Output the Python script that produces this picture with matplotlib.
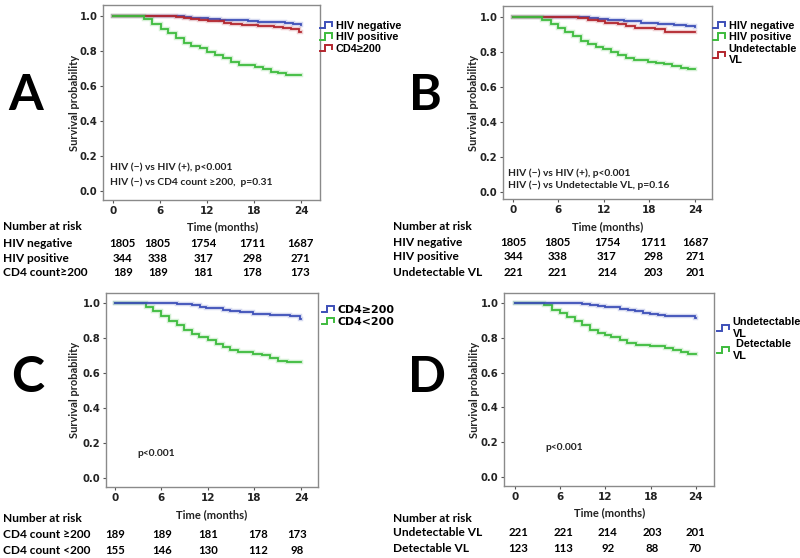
import numpy as np
import matplotlib
matplotlib.use('Agg')
import matplotlib.pyplot as plt
from matplotlib.lines import Line2D
from matplotlib.legend_handler import HandlerBase
import matplotlib.transforms as mtrans

plt.rcParams['font.family'] = ['Lato', 'DejaVu Sans']

# ---------------- data ----------------
months = [0, 6, 12, 18, 24]
y_ticks = [0.0, 0.2, 0.4, 0.6, 0.8, 1.0]
y_tick_labels = ['0.0', '0.2', '0.4', '0.6', '0.8', '1.0']

# Panel A
A_neg_t = [0, 7.85, 9.0, 9.98, 12.1, 13.6, 15.1, 17.2, 18.5, 19.7, 21.9, 23.0, 24.0]
A_neg_s = [1.0, 0.998, 0.994, 0.990, 0.983, 0.980, 0.977, 0.971, 0.967, 0.964, 0.958, 0.953, 0.948]
A_pos_t = [0, 3.93, 4.99, 6.06, 7.0, 8.06, 9.04, 9.98, 11.05, 12.0, 13.04, 14.03, 15.0, 16.04,
           18.08, 19.1, 20.2, 21.1, 22.1, 24.0]
A_pos_s = [1.0, 0.981, 0.954, 0.928, 0.901, 0.874, 0.848, 0.829, 0.815, 0.796, 0.777, 0.758, 0.735, 0.720,
           0.707, 0.695, 0.683, 0.672, 0.662, 0.662]
A_cd4_t = [0, 8.06, 9.0, 9.98, 11.0, 12.1, 14.2, 15.0, 16.4, 18.0, 18.5, 20.6, 21.7, 22.7, 23.8, 24.0]
A_cd4_s = [1.0, 0.996, 0.990, 0.984, 0.977, 0.971, 0.962, 0.955, 0.951, 0.946, 0.944, 0.935, 0.930, 0.924, 0.910, 0.910]

# Panel B
B_neg_t = [0, 8.8, 10.0, 11.2, 12.5, 14.7, 16.9, 19.1, 21.3, 22.8, 24.0]
B_neg_s = [1.0, 0.998, 0.994, 0.990, 0.983, 0.975, 0.968, 0.962, 0.954, 0.950, 0.945]
B_pos_t = [0, 3.87, 4.96, 5.93, 6.9, 7.9, 8.93, 9.9, 10.9, 11.9, 12.9, 13.85, 14.95, 15.96,
           17.8, 18.9, 19.9, 21.0, 22.1, 23.1, 24.0]
B_pos_s = [1.0, 0.981, 0.958, 0.939, 0.914, 0.891, 0.863, 0.844, 0.829, 0.815, 0.800, 0.783, 0.768, 0.752,
           0.745, 0.739, 0.730, 0.720, 0.707, 0.702, 0.702]
B_vl_t = [0, 8.57, 9.9, 11.2, 12.1, 13.85, 14.95, 16.05, 17.8, 18.7, 20.0, 23.9, 24.0]
B_vl_s = [1.0, 0.996, 0.983, 0.977, 0.968, 0.962, 0.949, 0.939, 0.935, 0.930, 0.916, 0.912, 0.912]

# Panel C
C_hi_t = [0, 7.96, 9.9, 10.97, 11.8, 14.0, 14.8, 16.1, 17.8, 20.0, 21.7, 22.6, 23.9, 24.0]
C_hi_s = [1.0, 0.996, 0.987, 0.977, 0.971, 0.962, 0.952, 0.947, 0.939, 0.933, 0.930, 0.924, 0.910, 0.910]
C_lo_t = [0, 4.0, 4.95, 6.0, 7.0, 7.96, 8.9, 9.9, 10.9, 12.0, 13.0, 14.0, 14.9, 15.9,
          17.8, 19.0, 20.0, 21.1, 22.2, 24.0]
C_lo_s = [1.0, 0.975, 0.952, 0.924, 0.899, 0.872, 0.848, 0.825, 0.806, 0.787, 0.768, 0.749, 0.730, 0.720,
          0.709, 0.701, 0.686, 0.670, 0.663, 0.663]

# Panel D
D_und_t = [0, 8.84, 9.95, 11.06, 11.94, 13.9, 15.03, 15.9, 17.02, 17.9, 19.0, 19.9, 23.9, 24.0]
D_und_s = [1.0, 0.996, 0.990, 0.981, 0.975, 0.967, 0.960, 0.952, 0.944, 0.939, 0.933, 0.923, 0.914, 0.914]
D_det_t = [0, 3.89, 4.86, 5.97, 6.9, 7.96, 8.84, 9.95, 11.06, 11.94, 12.8, 13.9, 14.9, 16.05,
           17.9, 19.9, 21.0, 22.0, 23.0, 24.0]
D_det_s = [1.0, 0.987, 0.962, 0.943, 0.920, 0.895, 0.872, 0.843, 0.828, 0.818, 0.803, 0.786, 0.770, 0.761,
           0.755, 0.741, 0.728, 0.717, 0.706, 0.706]

# Risk tables
A_risk_labels = ['HIV negative', 'HIV positive', 'CD4 count\u2265200']
A_risk = [[1805, 1805, 1754, 1711, 1687], [344, 338, 317, 298, 271], [189, 189, 181, 178, 173]]
B_risk_labels = ['HIV negative', 'HIV positive', 'Undetectable VL']
B_risk = [[1805, 1805, 1754, 1711, 1687], [344, 338, 317, 298, 271], [221, 221, 214, 203, 201]]
C_risk_labels = ['CD4 count \u2265200', 'CD4 count <200']
C_risk = [[189, 189, 181, 178, 173], [155, 146, 130, 112, 98]]
D_risk_labels = ['Undetectable VL', 'Detectable VL']
D_risk = [[221, 221, 214, 203, 201], [123, 113, 92, 88, 70]]

# ---------------- style ----------------
BLUE = '#3d4fb8'
GREEN = '#3dbb3d'
RED = '#b3262e'
SPINE = '#8a8a8a'
TXT = '#222222'

W, H = 800, 558
fig = plt.figure(figsize=(W / 100, H / 100), dpi=100)


def px_rect(x0, y0, x1, y1):
    return [x0 / W, 1 - y1 / H, (x1 - x0) / W, (y1 - y0) / H]


def ftext(x, y, s, **kw):
    return fig.text(x / W, 1 - y / H, s, **kw)


class StepHandler(HandlerBase):
    def create_artists(self, legend, orig_handle, xdescent, ydescent, width, height, fontsize, trans):
        xs = np.array([0.0, 0.45, 0.45, 1.0, 1.0]) * width - xdescent
        ys = np.array([0.1, 0.1, 0.9, 0.9, 0.35]) * height - ydescent
        ln = Line2D(xs, ys, color=orig_handle.get_color(), lw=1.4, solid_joinstyle='miter')
        ln.set_transform(trans)
        return [ln]


def make_axes(bounds, xlim, ylim):
    ax = fig.add_axes(px_rect(*bounds))
    ax.set_xlim(*xlim)
    ax.set_ylim(*ylim)
    for sp in ax.spines.values():
        sp.set_color(SPINE)
        sp.set_linewidth(1.0)
    ax.set_xticks(months)
    ax.set_xticklabels([str(m) for m in months], fontfamily='DejaVu Sans', fontweight='bold',
                       fontsize=7.5, color=TXT)
    ax.set_yticks(y_ticks)
    ax.set_yticklabels(y_tick_labels, fontfamily='DejaVu Sans', fontweight='bold',
                       fontsize=7.2, color=TXT)
    ax.tick_params(axis='both', length=2.5, width=0.8, color='#555555', pad=1.5)
    return ax


def curve(ax, t, s, color):
    ax.step(t, s, where='post', color=color, lw=3.2, alpha=0.22, solid_joinstyle='miter')
    return ax.step(t, s, where='post', color=color, lw=1.3, solid_joinstyle='miter')[0]


def decorate(ax, bounds, ylab_dx, xlab_x, xlab_y):
    x0, y0, x1, y1 = bounds
    ftext(x0 + ylab_dx, (y0 + y1) / 2, 'Survival probability', rotation=90, ha='center', va='center',
          fontsize=8, fontweight='bold', color=TXT)
    ftext(xlab_x, xlab_y, 'Time (months)', ha='center', va='center', fontsize=8,
          fontweight='bold', color=TXT)


def risk_table(ax, x_lab, y_head, rows_y, labels, counts, shifts):
    ftext(x_lab, y_head, 'Number at risk', ha='left', va='center', fontsize=8.6,
          fontweight='bold', color='black')
    trans = mtrans.blended_transform_factory(ax.transData, fig.transFigure)
    for lab, yy, cnt in zip(labels, rows_y, counts):
        ftext(x_lab, yy, lab, ha='left', va='center', fontsize=8.6, fontweight='bold', color='black')
        for m, sh, n in zip(months, shifts, cnt):
            ax.text(m + sh, 1 - yy / H, str(n), transform=trans, ha='center', va='center',
                    fontsize=8.2, fontweight='bold', color='black')


def legend(ax, handles, labels, x, y, fam, size, spacing):
    ax.legend(handles, labels, handler_map={Line2D: StepHandler()}, loc='upper left',
              bbox_to_anchor=(x / W, 1 - y / H), bbox_transform=fig.transFigure, frameon=False,
              borderpad=0, borderaxespad=0, handlelength=1.1, handletextpad=0.35,
              labelspacing=spacing, prop={'family': fam, 'weight': 'bold', 'size': size})


# ---------------- Panel A ----------------
bA = (103, 5, 320, 200)
axA = make_axes(bA, (-1.32, 26.43), (-0.051, 1.063))
hA1 = curve(axA, A_neg_t, A_neg_s, BLUE)
hA3 = curve(axA, A_cd4_t, A_cd4_s, RED)
hA2 = curve(axA, A_pos_t, A_pos_s, GREEN)
legend(axA, [hA1, hA2, hA3], ['HIV negative', 'HIV positive', 'CD4\u2265200'], 320, 21,
       ['Liberation Sans', 'DejaVu Sans'], 7.8, 0.12)
decorate(axA, bA, -28, 223, 227)
ftext(110, 167, 'HIV (\u2212) vs HIV (+), p<0.001', ha='left', va='center', fontsize=7.4,
      fontweight='bold', color=TXT)
ftext(110, 182, 'HIV (\u2212) vs CD4 count \u2265200,  p=0.31', ha='left', va='center', fontsize=7.4,
      fontweight='bold', color=TXT)
risk_table(axA, 3, 227, [243, 258, 273], A_risk_labels, A_risk, [1.2, -0.3, -0.5, -0.2, -0.1])
ftext(26, 110, 'A', ha='center', va='baseline', fontsize=36, fontweight='bold', color='black')

# ---------------- Panel B ----------------
bB = (503, 6, 712, 199)
axB = make_axes(bB, (-1.32, 26.25), (-0.04, 1.063))
hB1 = curve(axB, B_neg_t, B_neg_s, BLUE)
hB3 = curve(axB, B_vl_t, B_vl_s, RED)
hB2 = curve(axB, B_pos_t, B_pos_s, GREEN)
legend(axB, [hB1, hB2, hB3], ['HIV negative', 'HIV positive', 'Undetectable\nVL'], 713, 21,
       ['Liberation Sans', 'DejaVu Sans'], 7.8, 0.12)
decorate(axB, bB, -30, 608, 227)
ftext(508, 173, 'HIV (\u2212) vs HIV (+), p<0.001', ha='left', va='center', fontsize=7.4,
      fontweight='bold', color=TXT)
ftext(508, 185, 'HIV (\u2212) vs Undetectable VL, p=0.16', ha='left', va='center', fontsize=7.4,
      fontweight='bold', color=TXT)
risk_table(axB, 393, 227, [242, 257, 273], B_risk_labels, B_risk, [0, -0.1, 0.4, 0.5, 0.0])
ftext(425, 110, 'B', ha='center', va='baseline', fontsize=36, fontweight='bold', color='black')

# ---------------- Panel C ----------------
bC = (106, 293, 318, 487)
axC = make_axes(bC, (-1.16, 26.2), (-0.051, 1.057))
hC2 = curve(axC, C_lo_t, C_lo_s, GREEN)
hC1 = curve(axC, C_hi_t, C_hi_s, BLUE)
legend(axC, [hC1, hC2], ['CD4\u2265200', 'CD4<200'], 322, 305,
       ['DejaVu Sans'], 7.9, 0.15)
decorate(axC, bC, -32, 212, 515)
ftext(137, 453, 'p<0.001', ha='left', va='center', fontsize=7.4, fontweight='bold', color=TXT)
risk_table(axC, 3, 519, [535, 550], C_risk_labels, C_risk, [0, 0.06, 0.0, 0.5, -0.5])
ftext(28, 392, 'C', ha='center', va='baseline', fontsize=36, fontweight='bold', color='black')

# ---------------- Panel D ----------------
bD = (504, 293, 714, 486)
axD = make_axes(bD, (-1.46, 26.4), (-0.052, 1.057))
hD2 = curve(axD, D_det_t, D_det_s, GREEN)
hD1 = curve(axD, D_und_t, D_und_s, BLUE)
legend(axD, [hD1, hD2], ['Undetectable\nVL', ' Detectable\nVL'], 717, 317,
       ['Liberation Sans', 'DejaVu Sans'], 7.8, 0.05)
decorate(axD, bD, -30, 610, 513)
ftext(545, 447, 'p<0.001', ha='left', va='center', fontsize=7.4, fontweight='bold', color=TXT)
risk_table(axD, 393, 518, [533, 549], D_risk_labels, D_risk, [0.4, 0.4, 0.3, 0.2, -0.1])
ftext(427, 392, 'D', ha='center', va='baseline', fontsize=36, fontweight='bold', color='black')

fig.savefig('out.png', dpi=100, facecolor='white')
